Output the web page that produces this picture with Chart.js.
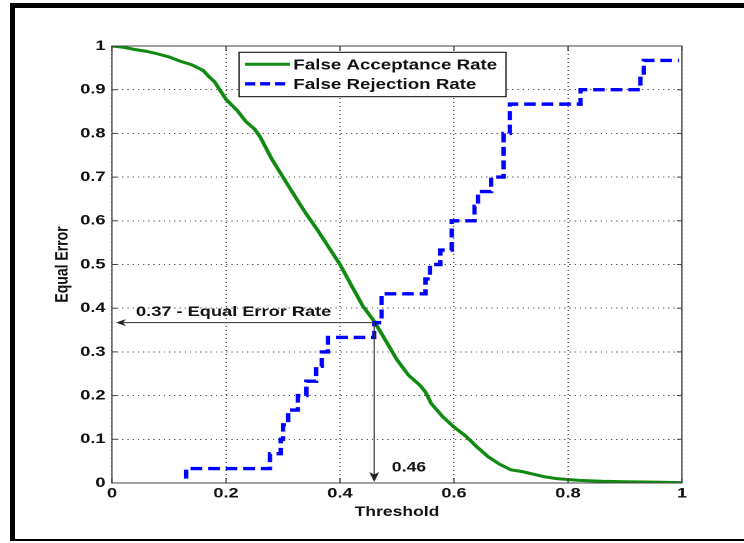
<!DOCTYPE html>
<html>
<head>
<meta charset="utf-8">
<script src="https://cdn.jsdelivr.net/npm/chart.js@4.4.0/dist/chart.umd.min.js"></script>
<style>
  html, body { margin: 0; padding: 0; background: #fff; }
  body { width: 744px; height: 543px; position: relative; overflow: hidden; }
  /* the source figure is stretched sideways, so the canvas is too */
  #c { position: absolute; left: 0; top: 0; transform: scaleX(1.3); transform-origin: 0 0; }
  #frame { position: absolute; left: 10px; top: 3px; width: 734px; height: 538px; box-sizing: border-box;
    border-top: 5px solid #000; border-left: 5px solid #000; border-bottom: 2px solid #000; pointer-events: none; }
</style>
</head>
<body>
<canvas id="c" width="572" height="543"></canvas>
<div id="frame"></div>
<script>
// False Acceptance Rate
const farX = [0, 0.02, 0.04, 0.06, 0.08, 0.10, 0.12, 0.14, 0.16, 0.17, 0.18, 0.20, 0.22, 0.235, 0.25, 0.26,
  0.28, 0.30, 0.32, 0.34, 0.36, 0.38, 0.40, 0.42, 0.44, 0.46, 0.48, 0.50, 0.52, 0.54, 0.55, 0.56, 0.58,
  0.60, 0.62, 0.64, 0.66, 0.68, 0.70, 0.72, 0.74, 0.76, 0.78, 0.80, 0.82, 0.86, 0.90, 0.95, 1.0];
const farY = [1.0, 0.997, 0.992, 0.988, 0.982, 0.975, 0.965, 0.957, 0.944, 0.93, 0.918, 0.878, 0.852, 0.827, 0.810, 0.792,
  0.742, 0.700, 0.658, 0.617, 0.580, 0.540, 0.500, 0.452, 0.405, 0.370, 0.326, 0.282, 0.247, 0.224, 0.208, 0.182, 0.152,
  0.128, 0.108, 0.083, 0.060, 0.043, 0.030, 0.026, 0.020, 0.014, 0.010, 0.008, 0.006, 0.004, 0.003, 0.002, 0.001];

// False Rejection Rate: threshold where each level starts
const frrX = [0.13, 0.13, 0.277, 0.296, 0.300, 0.309, 0.326, 0.341, 0.358, 0.368, 0.379, 0.460, 0.473, 0.550, 0.558,
  0.576, 0.596, 0.636, 0.642, 0.665, 0.687, 0.698, 0.822, 0.927, 0.933, 0.995];
const frrY = [0.01, 0.033, 0.067, 0.1, 0.133, 0.167, 0.2, 0.233, 0.267, 0.3, 0.333, 0.367, 0.433, 0.467, 0.5,
  0.533, 0.6, 0.633, 0.667, 0.7, 0.8, 0.867, 0.9, 0.933, 0.967, 0.967];

const seriesNames = ['False Acceptance Rate', 'False Rejection Rate'];
const eerThreshold = 0.46;
const eerValue = 0.367;
const eerText = '0.37 - Equal Error Rate';
const thresholdText = '0.46';

const family = "'Liberation Sans', Arial, sans-serif";
Chart.defaults.font.family = family;

const farPoints = farX.map((x, i) => ({ x: x, y: farY[i] }));
const frrPoints = [];
frrX.forEach((x, i) => {
  if (i > 0) frrPoints.push({ x: x, y: frrY[i - 1] });
  frrPoints.push({ x: x, y: frrY[i] });
});

const fmt = v => String(Math.round(v * 10) / 10);

const axesBox = {
  id: 'axesBox',
  afterDatasetsDraw(chart) {
    const { ctx, chartArea: a, scales: { x, y } } = chart;
    ctx.save();
    ctx.strokeStyle = '#444';
    ctx.lineWidth = 1;
    ctx.strokeRect(a.left, a.top, a.right - a.left, a.bottom - a.top);
    ctx.beginPath();
    x.ticks.forEach(t => {
      const px = x.getPixelForValue(t.value);
      ctx.moveTo(px, a.bottom); ctx.lineTo(px, a.bottom - 5);
      ctx.moveTo(px, a.top); ctx.lineTo(px, a.top + 5);
    });
    y.ticks.forEach(t => {
      const py = y.getPixelForValue(t.value);
      ctx.moveTo(a.left, py); ctx.lineTo(a.left + 4, py);
      ctx.moveTo(a.right, py); ctx.lineTo(a.right - 4, py);
    });
    ctx.stroke();
    ctx.restore();
  }
};

const eerMarks = {
  id: 'eerMarks',
  afterDatasetsDraw(chart) {
    const { ctx, chartArea: a, scales: { x, y } } = chart;
    const px = x.getPixelForValue(eerThreshold);
    const py = y.getPixelForValue(eerValue);
    const tipX = a.left + 3;
    const tipY = a.bottom - 1;
    ctx.save();
    ctx.strokeStyle = '#333';
    ctx.fillStyle = '#222';
    ctx.lineWidth = 1;
    ctx.beginPath();
    ctx.moveTo(px, py); ctx.lineTo(tipX + 5, py);
    ctx.moveTo(px, py); ctx.lineTo(px, tipY - 7);
    ctx.stroke();
    // arrow heads
    ctx.beginPath();
    ctx.moveTo(tipX, py); ctx.lineTo(tipX + 7.7, py - 3.5); ctx.lineTo(tipX + 5.5, py); ctx.lineTo(tipX + 7.7, py + 3.5);
    ctx.closePath(); ctx.fill();
    ctx.beginPath();
    ctx.moveTo(px, tipY); ctx.lineTo(px - 3.8, tipY - 10); ctx.lineTo(px, tipY - 7.5); ctx.lineTo(px + 3.8, tipY - 10);
    ctx.closePath(); ctx.fill();
    ctx.fillStyle = '#111';
    ctx.textBaseline = 'alphabetic';
    ctx.textAlign = 'left';
    ctx.font = 'bold 14px ' + family;
    ctx.fillText(eerText, a.left + 18.5, py - 6.7);
    ctx.font = 'bold 13.5px ' + family;
    ctx.fillText(thresholdText, px + 13.6, a.bottom - 11.3);
    ctx.restore();
  }
};

const boxLegend = {
  id: 'boxLegend',
  afterDraw(chart) {
    const { ctx, chartArea: a } = chart;
    const left = a.left + 97.7, top = a.top + 6.3, w = 205.4, h = 44.4;
    ctx.save();
    ctx.fillStyle = '#fff';
    ctx.fillRect(left, top, w, h);
    ctx.strokeStyle = '#000';
    ctx.lineWidth = 1;
    ctx.strokeRect(left, top, w, h);
    ctx.font = 'bold 14.4px ' + family;
    ctx.textBaseline = 'middle';
    ctx.textAlign = 'left';
    chart.data.datasets.forEach((ds, i) => {
      const cy = top + 12 + i * 19.5;
      ctx.strokeStyle = ds.borderColor;
      ctx.lineWidth = ds.borderWidth;
      ctx.setLineDash(ds.borderDash ? [7.7, 3.8] : []);
      ctx.beginPath();
      ctx.moveTo(left + 4.7, cy);
      ctx.lineTo(left + 39.2, cy);
      ctx.stroke();
      ctx.setLineDash([]);
      ctx.fillStyle = '#111';
      ctx.fillText(ds.label, left + 41.8, cy + 1);
    });
    ctx.restore();
  }
};

const tickFont = { family: family, size: 14, weight: 'bold' };

new Chart(document.getElementById('c'), {
  type: 'line',
  data: {
    datasets: [
      { label: seriesNames[0], data: farPoints, borderColor: '#108a10', borderWidth: 3,
        pointRadius: 0, tension: 0, order: 1 },
      { label: seriesNames[1], data: frrPoints, borderColor: '#0000ff', borderWidth: 3.4,
        borderDash: [9, 4.5], pointRadius: 0, tension: 0, order: 0 }
    ]
  },
  options: {
    responsive: false,
    animation: false,
    devicePixelRatio: 2,
    layout: { padding: { left: 0, top: 46, right: 47.4, bottom: 0 } },
    plugins: { legend: { display: false }, tooltip: { enabled: false } },
    scales: {
      x: {
        type: 'linear', min: 0, max: 1,
        ticks: { stepSize: 0.2, padding: 2, color: '#111', font: tickFont, maxRotation: 0, autoSkip: false, callback: fmt },
        grid: { color: '#555', lineWidth: 1, drawTicks: false },
        border: { display: false, dash: [1, 3] },
        title: { display: true, text: 'Threshold', color: '#111',
          font: { family: family, size: 13.5, weight: 'bold' }, padding: { top: 0, bottom: 22.4 } },
        afterFit: s => { s.height = 60; }
      },
      y: {
        type: 'linear', min: 0, max: 1,
        ticks: { stepSize: 0.1, padding: 5, color: '#111', font: tickFont, autoSkip: false, callback: fmt },
        grid: { color: '#555', lineWidth: 1, drawTicks: false },
        border: { display: false, dash: [1, 3] },
        title: { display: true, text: 'Equal Error', color: '#111',
          font: { family: family, size: 14, weight: 'bold' }, padding: { top: 39.6, bottom: 0 } },
        afterFit: s => { s.width = 86.15; }
      }
    }
  },
  plugins: [axesBox, eerMarks, boxLegend]
});
</script>
</body>
</html>
